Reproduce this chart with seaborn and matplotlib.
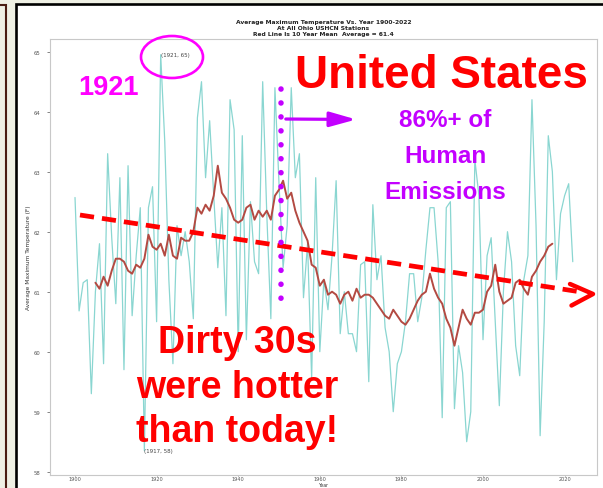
import numpy as np
import pandas as pd
import matplotlib.pyplot as plt
import matplotlib.patches as mpatches
from matplotlib.lines import Line2D
from matplotlib.transforms import Affine2D
import seaborn as sns

# annual average max temperature, Ohio USHCN stations
years = list(range(1900, 2023))
avg_max_temp = [
    62.57, 60.68, 61.15, 61.2, 59.3, 61.0, 61.8, 59.8, 63.3, 61.9,
    60.8, 62.9, 59.7, 63.1, 60.6, 61.6, 62.4, 58.35, 62.4, 62.75,
    60.5, 64.95, 63.5, 61.2, 59.8, 62.1, 61.6, 62.0, 61.5, 60.55,
    63.9, 64.5, 62.9, 63.85, 62.6, 61.4, 62.4, 60.6, 64.2, 63.7,
    60.0, 63.6, 60.2, 62.5, 61.5, 61.3, 64.5, 62.3, 60.55, 64.4,
    62.8, 61.4, 62.1, 64.4, 62.9, 63.3, 60.9, 61.8, 59.55, 62.9,
    60.0, 61.2, 60.7, 61.6, 62.85, 60.3, 61.0, 60.3, 60.3, 60.0,
    61.45, 61.5, 59.5, 62.45, 61.2, 61.6, 60.4, 60.0, 59.0, 59.8,
    60.0, 60.5, 61.3, 61.3, 60.5, 60.9, 61.7, 62.4, 62.4, 61.5,
    58.9, 62.4, 62.5, 59.05, 60.1, 59.65, 58.5, 59.0, 63.2, 62.6,
    60.2, 61.6, 61.9, 60.5, 59.1, 61.0, 62.0, 61.5, 60.1, 59.6,
    61.2, 61.6, 64.2, 62.1, 58.6, 60.5, 63.6, 63.0, 61.2, 62.3,
    62.6, 62.8, 61.5,
]

# 10 year mean (red line), also
mean_years = list(range(1905, 2018))
ten_year_mean = [
    61.15, 61.05, 61.25, 61.1, 61.35,
    61.55, 61.55, 61.5, 61.35, 61.3, 61.45, 61.4, 61.55, 61.95, 61.75,
    61.7, 61.8, 61.6, 61.95, 61.6, 61.55, 61.9, 61.85, 61.85, 62.0,
    62.4, 62.3, 62.45, 62.35, 62.6, 63.1, 62.65, 62.55, 62.4, 62.2,
    62.15, 62.2, 62.4, 62.45, 62.2, 62.35, 62.25, 62.35, 62.2, 62.6,
    62.7, 62.85, 62.55, 62.65, 62.35, 62.15, 62.0, 61.85, 61.45, 61.4,
    61.1, 61.2, 60.95, 61.0, 60.95, 60.8, 60.95, 61.0, 60.85, 61.05,
    60.9, 60.95, 60.95, 60.9, 60.8, 60.7, 60.6, 60.55, 60.7, 60.6,
    60.5, 60.45, 60.55, 60.7, 60.85, 60.95, 61.0, 61.3, 61.05, 60.9,
    60.8, 60.55, 60.4, 60.1, 60.4, 60.7, 60.55, 60.45, 60.65, 60.65,
    60.7, 61.0, 61.1, 61.45, 61.0, 60.8, 60.85, 60.9, 61.15, 61.2,
    61.05, 60.95, 61.25, 61.35, 61.5, 61.6, 61.75, 61.8,
]

title_lines = ["Average Maximum Temperature Vs. Year 1900-2022",
               "At All Ohio USHCN Stations",
               "Red Line Is 10 Year Mean  Average = 61.4"]
x_ticks = [1900, 1920, 1940, 1960, 1980, 2000, 2020]
y_ticks = [58, 59, 60, 61, 62, 63, 64, 65]

df = pd.DataFrame({"Year": years, "Temp": avg_max_temp})
dfm = pd.DataFrame({"Year": mean_years, "Mean": ten_year_mean})

sns.set_theme(style="ticks")
plt.rcParams['font.family'] = ['DejaVu Sans']

W, H = 603, 489
fig = plt.figure(figsize=(W / 100, H / 100), dpi=100)
fig.patch.set_facecolor("#eff0e4")
pix = Affine2D().scale(1, -1).translate(0, H)   # pixel coords, y from top

# slide boxes
fig.add_artist(mpatches.Rectangle((-20, 6), 25.5, 520, transform=pix, facecolor="#eff0e4",
                                  edgecolor="#4a1d12", lw=1.5, zorder=-2))
fig.add_artist(mpatches.Rectangle((16, 5), 595, 520, transform=pix, facecolor="white",
                                  edgecolor="black", lw=1.9, zorder=-1))

ax = fig.add_axes([50 / W, 1 - 476 / H, 547 / W, 436.5 / H])
sns.lineplot(data=df, x="Year", y="Temp", ax=ax, color="#8ad6d1", lw=0.9)
sns.lineplot(data=dfm, x="Year", y="Mean", ax=ax, color="#b34a42", lw=1.4)

ax.set_xlim(1893.87, 2027.94)
ax.set_ylim(57.945, 65.22)
ax.set_xticks(x_ticks)
ax.set_yticks(y_ticks)
for s in ax.spines.values():
    s.set_color("#c8c8c8")
    s.set_linewidth(0.8)
ax.tick_params(axis="both", colors="#555555", width=0.5)
ax.tick_params(axis="y", labelsize=3.8, length=2, pad=5)
ax.tick_params(axis="x", labelsize=3.6, length=1.0, pad=0)
ax.set_ylabel("Average Maximum Temperature (F)", fontsize=4.2, labelpad=2, color="#333333")
ax.set_xlabel("Year", fontsize=3.4, color="#333333")
ax.xaxis.set_label_coords(0.5, -7.4 / 436.5)
ax.set_title("\n".join(title_lines), fontsize=4.3, fontweight="bold", pad=2.5,
             linespacing=1.2, color="#222222")

# max / min labels
imax = df["Temp"].idxmax()
imin = df["Temp"].idxmin()
for i in (imax, imin):
    yr, t = df.loc[i, "Year"], df.loc[i, "Temp"]
    ax.text(yr, t, f"({yr}, {round(t)})", fontsize=4, color="#444444", ha="left", va="center")

# slide overlays
red = "#ff0000"
purple = "#c300ff"
magenta = "#ff00ff"
ov = dict(transform=pix, family=["Liberation Sans", "DejaVu Sans"], fontweight="bold")

# trend arrow
fig.add_artist(Line2D([80, 578], [216, 292.5], transform=pix, color=red, lw=3.4,
                      linestyle=(0, (3.0, 1.7)), zorder=5))
fig.add_artist(Line2D([570, 593, 571.5], [285, 295, 306.5], transform=pix, color=red, lw=3.2,
                      solid_joinstyle="round", solid_capstyle="round", zorder=5))

# dotted marker line and arrow
fig.add_artist(Line2D([281, 281], [90, 309], transform=pix, color=purple, lw=4.0,
                      linestyle=(0, (0.01, 2.5)), dash_capstyle="round", zorder=5))
fig.add_artist(mpatches.FancyArrowPatch((283, 120), (359, 120.5), transform=pix,
                                        arrowstyle="-|>,head_length=1.6,head_width=0.45",
                                        mutation_scale=10, color=purple, lw=2.3, zorder=5))

fig.add_artist(mpatches.Ellipse((172, 58), 62, 42, transform=pix, fill=False,
                                edgecolor=magenta, lw=1.9, zorder=5))

fig.text(108.5, 95, "1921", color=magenta, fontsize=19.5, ha="center", va="baseline", zorder=6, **ov)
fig.text(441, 88.5, "United States", color=red, fontsize=33, ha="center", va="baseline", zorder=6, **ov)
for s, yb in zip(["86%+ of", "Human", "Emissions"], [127.5, 163, 199]):
    fig.text(445, yb, s, color=purple, fontsize=17.5, ha="center", va="baseline", zorder=6, **ov)
for s, yb in zip(["Dirty 30s", "were hotter", "than today!"], [353, 398.5, 442]):
    fig.text(237, yb, s, color=red, fontsize=27, ha="center", va="baseline", zorder=6, **ov)

fig.savefig("out.png", dpi=100, facecolor=fig.get_facecolor())
